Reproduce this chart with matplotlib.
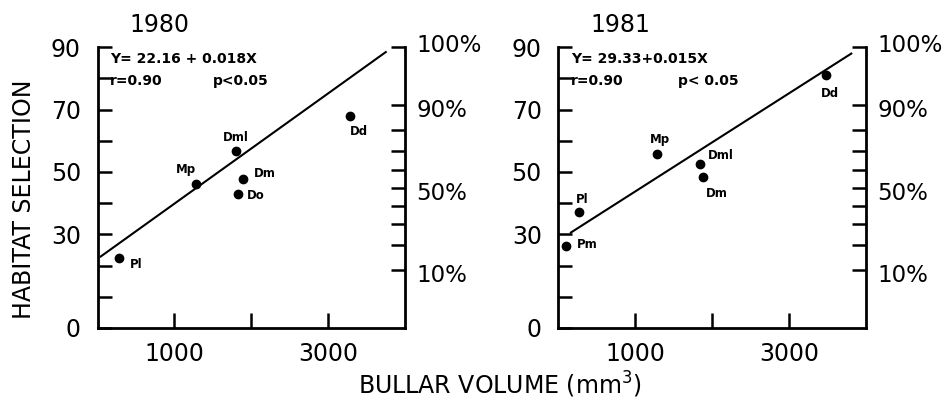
import numpy as np
import matplotlib
matplotlib.use("Agg")
import matplotlib.pyplot as plt

# ============================================================
# DATA
# ============================================================

years = ["1980", "1981"]

x_1980 = [280, 1275, 1805, 1890, 1830, 3280]
y_1980 = [22.5, 46.0, 56.7, 47.8, 42.9, 68.0]
lab_1980 = ["Pl", "Mp", "Dml", "Dm", "Do", "Dd"]

x_1981 = [265, 95, 1285, 1835, 1885, 3485]
y_1981 = [37.2, 26.2, 55.8, 52.6, 48.4, 80.9]
lab_1981 = ["Pl", "Pm", "Mp", "Dml", "Dm", "Dd"]

# regression line end points
fit_x_1980 = [30, 3760]
fit_y_1980 = [22.7, 88.6]
fit_x_1981 = [150, 3820]
fit_y_1981 = [30.4, 88.1]

eq_1980 = "Y= 22.16 + 0.018X"
eq_1981 = "Y= 29.33+0.015X"
stat_r = "r=0.90"
stat_p_1980 = "p<0.05"
stat_p_1981 = "p< 0.05"

y_ticks = [0, 10, 20, 30, 40, 50, 60, 70, 80, 90]
y_ticklabels = ["0", "", "", "30", "", "50", "", "70", "", "90"]
x_ticks = [1000, 2000, 3000]
x_ticklabels = ["1000", "", "3000"]
pct_ticks = [0.1, 0.2, 0.3, 0.4, 0.5, 0.6, 0.7, 0.8, 0.9, 1.0]
pct_labels = {0.1: "10%", 0.5: "50%", 0.9: "90%", 1.0: "100%"}

# label offsets (points) for each point label
off_1980 = [(8, -5), (-14, 11), (-10, 10), (8, 4), (6, -1), (0, -11)]
off_1981 = [(-2, 9), (8, 1), (-5, 10), (6, 6), (2, -12), (-4, -13)]

# ============================================================
# PLOT
# ============================================================

plt.rcParams["font.family"] = ["DejaVu Sans"]

fig = plt.figure(figsize=(9.48, 3.99), dpi=100)

panels = [
    (0.1029, x_1980, y_1980, lab_1980, off_1980, fit_x_1980, fit_y_1980, eq_1980, stat_p_1980, years[0]),
    (0.5891, x_1981, y_1981, lab_1981, off_1981, fit_x_1981, fit_y_1981, eq_1981, stat_p_1981, years[1]),
]

for left, xs, ys, labs, offs, fx, fy, eq, pstr, year in panels:
    ax = fig.add_axes([left, 0.178, 0.3244, 0.704])
    ax.set_xlim(0, 4000)
    ax.set_ylim(0, 90)

    ax.plot(fx, fy, color="black", lw=1.5, solid_capstyle="butt")
    ax.plot(xs, ys, "o", color="black", ms=6)
    for xv, yv, lab, (dx, dy) in zip(xs, ys, labs, offs):
        ax.annotate(lab, (xv, yv), xytext=(dx, dy), textcoords="offset points",
                    ha="left", va="center", fontsize=8.5, fontweight="bold")

    ax.text(160, 86.3, eq, fontsize=10, fontweight="bold", ha="left", va="center")
    ax.text(160, 79.0, stat_r, fontsize=10, fontweight="bold", ha="left", va="center")
    ax.text(1500 if year == "1980" else 1560, 79.0, pstr, fontsize=10,
            fontweight="bold", ha="left", va="center")

    ax.spines["top"].set_visible(False)
    for s in ["left", "bottom", "right"]:
        ax.spines[s].set_linewidth(2)

    ax.set_yticks(y_ticks)
    ax.set_yticklabels(y_ticklabels)
    ax.set_xticks(x_ticks)
    ax.set_xticklabels(x_ticklabels)
    ax.tick_params(axis="both", direction="in", width=1.8, labelsize=17)
    ax.tick_params(axis="y", length=10, pad=12)
    ax.tick_params(axis="x", length=11, pad=10)

    # right axis: arcsine-transformed percentages
    ax2 = ax.twinx()
    ax2.set_ylim(0, 90)
    for s in ax2.spines.values():
        s.set_visible(False)
    pct_pos = np.degrees(np.arcsin(np.sqrt(pct_ticks)))
    ax2.set_yticks(pct_pos)
    ax2.set_yticklabels([])
    ax2.tick_params(axis="y", direction="in", length=10, width=1.8)
    for p, yv in zip(pct_ticks, pct_pos):
        if p in pct_labels:
            dy = 1 if p == 1.0 else -4
            ax2.annotate(pct_labels[p], xy=(1, yv), xycoords=("axes fraction", "data"),
                         xytext=(8, dy), textcoords="offset points",
                         ha="left", va="center", fontsize=16.5, annotation_clip=False)

    ax.text(0.2, 1.078, year, transform=ax.transAxes, fontsize=17,
            ha="center", va="center")

fig.text(0.025, 0.5, "HABITAT SELECTION", rotation=90, fontsize=17,
         ha="center", va="center")
fig.text(0.527, 0.035, "BULLAR VOLUME (mm$^3$)", fontsize=17,
         ha="center", va="center")

plt.savefig("out.png", dpi=100)
